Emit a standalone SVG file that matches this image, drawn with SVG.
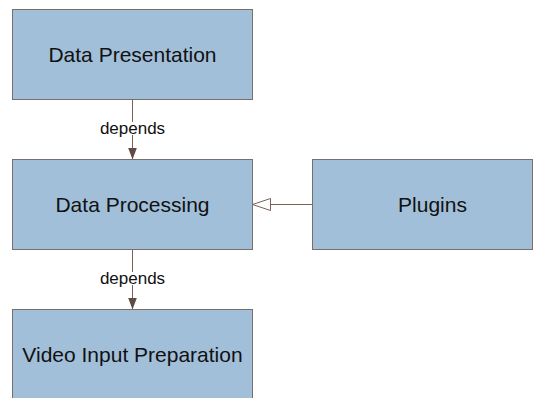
<svg xmlns="http://www.w3.org/2000/svg" width="544" height="398" viewBox="0 0 544 398">
  <style>
    .box { fill: #a1bfd9; stroke: #7a6e6a; stroke-width: 1; }
    .label { font-family: "Liberation Sans", Arial, sans-serif; font-size: 21px; fill: #111; text-anchor: middle; dominant-baseline: central; }
    .edge { stroke: #7a6356; stroke-width: 1; fill: none; }
    .edge-label { font-family: "Liberation Sans", Arial, sans-serif; font-size: 17px; fill: #111; text-anchor: middle; dominant-baseline: central; }
    .edge-label-bg { fill: #fff; }
  </style>
  <defs>
    <marker id="filled" viewBox="0 0 12 9" refX="12" refY="4.5" markerWidth="12" markerHeight="9" markerUnits="userSpaceOnUse" orient="auto">
      <path d="M0,0 L12,4.5 L0,9 Z" fill="#5e4c44"/>
    </marker>
    <marker id="hollow" viewBox="0 0 19 13" refX="18.5" refY="6.5" markerWidth="19" markerHeight="13" markerUnits="userSpaceOnUse" orient="auto">
      <path d="M0.5,0.5 L18.5,6.5 L0.5,12.5 Z" fill="#fff" stroke="#7a6356" stroke-width="1"/>
    </marker>
  </defs>
  <rect width="544" height="398" fill="#fff"/>

  <g id="edges">
    <line class="edge" x1="132.5" y1="99.5" x2="132.5" y2="159.5" marker-end="url(#filled)"/>
    <rect class="edge-label-bg" x="99" y="122" width="67" height="13"/>
    <text class="edge-label" x="132.5" y="128.5">depends</text>
    <line class="edge" x1="132.5" y1="249.5" x2="132.5" y2="309.5" marker-end="url(#filled)"/>
    <rect class="edge-label-bg" x="99" y="272" width="67" height="13"/>
    <text class="edge-label" x="132.5" y="278.5">depends</text>
    <line class="edge" x1="312.5" y1="204.5" x2="252.5" y2="204.5" marker-end="url(#hollow)"/>
  </g>

  <g id="data-presentation">
    <rect class="box" x="12.5" y="9.5" width="240" height="90"/>
    <text class="label" x="132.5" y="54.5">Data Presentation</text>
  </g>

  <g id="data-processing">
    <rect class="box" x="12.5" y="159.5" width="240" height="90"/>
    <text class="label" x="132.5" y="204.5">Data Processing</text>
  </g>

  <g id="plugins">
    <rect class="box" x="312.5" y="159.5" width="220" height="90"/>
    <text class="label" x="432.5" y="204.5">Plugins</text>
  </g>

  <g id="video-input-preparation">
    <rect class="box" x="12.5" y="309.5" width="240" height="90"/>
    <text class="label" x="132.5" y="354.5">Video Input Preparation</text>
  </g>
</svg>
